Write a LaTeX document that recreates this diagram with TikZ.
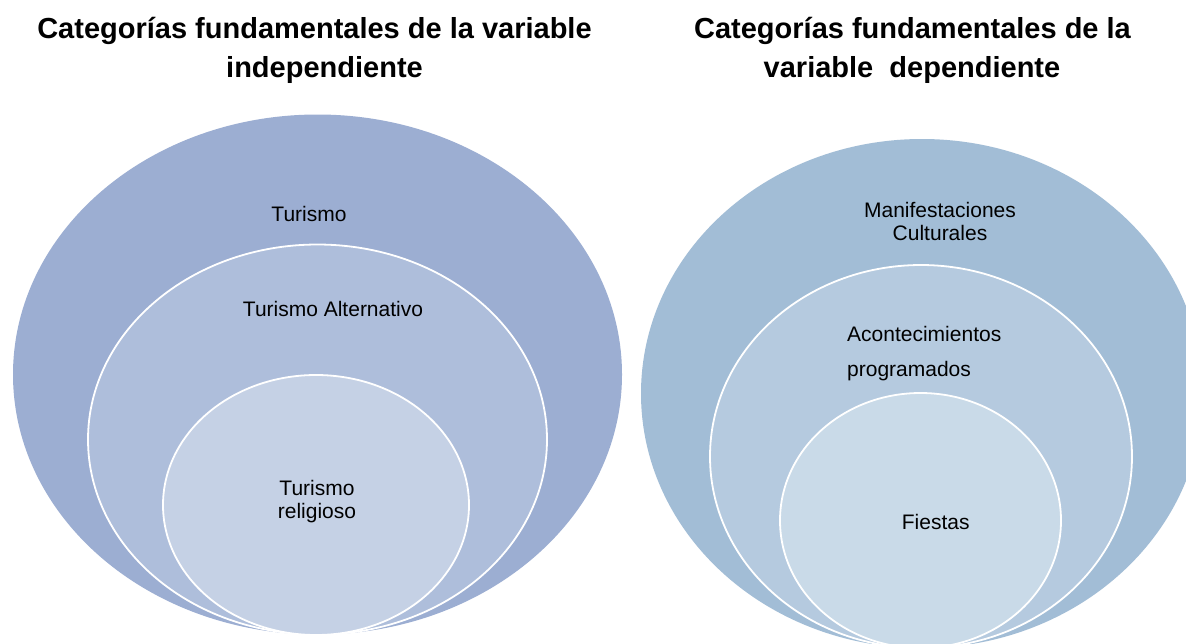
\documentclass[tikz,border=0pt]{standalone}
\usepackage{fontspec}
\setmainfont{Liberation Sans}
\usetikzlibrary{shapes.geometric}
\definecolor{lout}{HTML}{9CAED2}
\definecolor{lmid}{HTML}{AEBEDB}
\definecolor{linn}{HTML}{C5D1E5}
\definecolor{rout}{HTML}{A2BDD6}
\definecolor{rmid}{HTML}{B5CADF}
\definecolor{rinn}{HTML}{C9DAE8}
\begin{document}
\begin{tikzpicture}[x=1pt,y=-1pt,
  ring/.style={ellipse, inner sep=0pt, draw=white, line width=1.8pt},
  outer/.style={ellipse, inner sep=0pt, draw=none},
  lbl/.style={font=\fontsize{21}{23}\selectfont, inner sep=0pt, text=black, align=center},
  ttl/.style={font=\bfseries\fontsize{29}{39}\selectfont, inner sep=0pt, anchor=base}]
\useasboundingbox[fill=white] (0,0) rectangle (1186,643);
\begin{scope}
\clip (0,0) rectangle (1186,643);
% left
\node[outer, fill=lout, minimum width=609pt, minimum height=520pt] (Lout) at (317.5,374.5) {};
\node[ring, fill=lmid, minimum width=459pt, minimum height=390pt] (Lmid) at (317.5,439.5) {};
\node[ring, fill=linn, minimum width=306pt, minimum height=260pt] (Linn) at (316,505) {};
% right
\node[outer, fill=rout, minimum width=562pt, minimum height=509pt] (Rout) at (922,393.5) {};
\node[ring, fill=rmid, minimum width=422pt, minimum height=383pt] (Rmid) at (921,456.5) {};
\node[ring, fill=rinn, minimum width=281pt, minimum height=255pt] (Rinn) at (920.5,520.5) {};
\end{scope}
% titles
\node[ttl] (tLa) at (314.5,38.5) {Categorías fundamentales de la variable};
\node[ttl] (tLb) at (324.5,77.5) {independiente};
\node[ttl] (tRa) at (912.5,38.5) {Categorías fundamentales de la};
\node[ttl] (tRb) at (912,77.5) {variable\ \ dependiente};
% labels left
\node[lbl] (t1) at (309,214) {Turismo};
\node[lbl] (t2) at (333,309) {Turismo Alternativo};
\node[lbl] (t3) at (317,502) {Turismo\\religioso};
% labels right
\node[lbl] (r1) at (940,221) {Manifestaciones\\Culturales};
\node[lbl, font=\fontsize{21}{35}\selectfont, align=left, anchor=west] (r2) at (847,353.5) {Acontecimientos\\programados};
\node[lbl] (r3) at (935.7,521.5) {Fiestas};
\end{tikzpicture}
\end{document}
